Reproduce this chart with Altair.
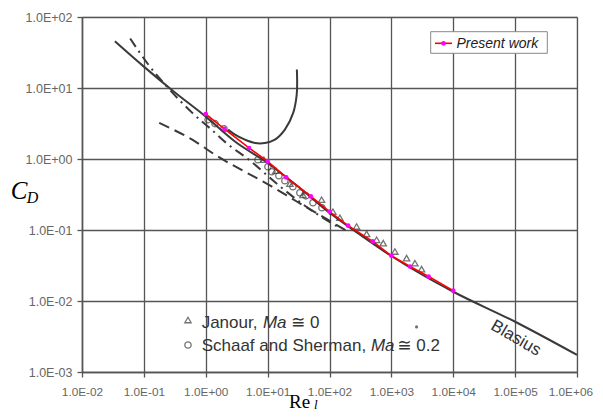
import altair as alt
import pandas as pd

# ---------------- data ----------------
# solid curve (low-Re theory merging into Blasius)
solid_re = [0.034, 0.1, 0.3, 1, 3, 10, 30, 100, 300, 1000, 3000, 10000, 100000, 1000000]
solid_cd = [45.6, 20.0, 9.0, 3.95, 1.75, 0.88, 0.42, 0.175, 0.088, 0.043, 0.024, 0.0135, 0.0051, 0.00174]

# dash-dot curve
dashdot_re = [0.06, 0.12, 0.26, 0.6, 1.24, 2.15, 5.2, 14.7, 40, 150]
dashdot_cd = [49.8, 21.0, 9.5, 4.5, 2.59, 1.68, 0.95, 0.434, 0.22, 0.105]

# long-dash curve
longdash_re = [0.177, 0.67, 1.41, 11.6, 30, 100, 200]
longdash_cd = [3.22, 1.77, 1.15, 0.411, 0.25, 0.135, 0.095]

# U-shaped curve (diverging expansion)
ucurve_re = [2.29, 2.97, 4.30, 6.23, 9.04, 13.1, 19.0, 25.9, 29.5, 30.0, 29.7]
ucurve_cd = [2.59, 2.20, 1.87, 1.68, 1.68, 1.87, 2.59, 4.46, 8.0, 12.5, 18.2]

# present work
present_re = [1, 2, 5, 10, 20, 50, 100, 200, 500, 1000, 2000, 4000, 10000]
present_cd = [4.3, 2.65, 1.43, 0.925, 0.55, 0.297, 0.182, 0.115, 0.069, 0.0433, 0.0306, 0.0221, 0.014]

# Janour (triangles)
janour_re = [8.7, 13.6, 22.9, 37.2, 74.5, 113.5, 147, 274, 398, 577, 738, 1140, 1762, 2400, 3077]
janour_cd = [0.977, 0.684, 0.449, 0.313, 0.267, 0.181, 0.149, 0.112, 0.0883, 0.0728, 0.0653, 0.0498, 0.0402, 0.0341, 0.0281]

# Schaaf and Sherman (circles)
schaaf_re = [1.09, 1.41, 1.97, 6.97, 10.1, 11.7, 15.2, 19.0, 25.6, 33.2, 41.6, 54, 75.4]
schaaf_cd = [3.58, 3.15, 2.67, 0.977, 0.778, 0.662, 0.581, 0.494, 0.407, 0.335, 0.303, 0.242, 0.206]

# axis ticks
x_ticks = [1e-2, 1e-1, 1e0, 1e1, 1e2, 1e3, 1e4, 1e5, 1e6]
x_tick_labels = ["1.0E-02", "1.0E-01", "1.0E+00", "1.0E+01", "1.0E+02",
                 "1.0E+03", "1.0E+04", "1.0E+05", "1.0E+06"]
y_ticks = [1e-3, 1e-2, 1e-1, 1e0, 1e1, 1e2]
y_tick_labels = ["1.0E-03", "1.0E-02", "1.0E-01", "1.0E+00", "1.0E+01", "1.0E+02"]

# in-plot annotation texts (data coordinates)
note_text = ["Janour,", "Ma", "\u2245 0", "Schaaf and Sherman,", "Ma", "\u2245 0.2"]
note_re = [0.859, 8.4, 23.8, 0.859, 467, 1250]
note_cd = [0.0049, 0.0049, 0.0049, 0.00233, 0.00233, 0.00233]
note_italic = [False, True, False, False, True, False]
key_shape = ["triangle-up", "circle"]
key_re = [0.516, 0.516]
key_cd = [0.0054, 0.0024]
dot_re = [2553]
dot_cd = [0.00432]
blasius_label = ["Blasius"]
blasius_re = [1.03e5]
blasius_cd = [0.003]

# ---------------- chart ----------------
W, H = 495, 355
GRAY = "#3a3a3a"
SANS = "Liberation Sans, Arial, DejaVu Sans"
SERIF = "Liberation Serif, Times New Roman, serif"

xs = alt.Scale(type="log", domain=[1e-2, 1e6])
ys = alt.Scale(type="log", domain=[1e-3, 1e2])

def arr(lst):
    return "[" + ",".join("'" + s + "'" for s in lst) + "]"

# the last x label is drawn separately (right-aligned so it stays inside the page)
axis_x_labels = x_tick_labels[:-1] + [""]

xaxis = alt.Axis(values=x_ticks, title=None, grid=True,
                 labelExpr=arr(axis_x_labels) + "[round(log(datum.value)/LN10)+2]",
                 labelFont=SANS, labelFontSize=11.8, labelColor="#666",
                 labelPadding=9, tickSize=5, labelFlush=False, labelOverlap=False)
yaxis = alt.Axis(values=y_ticks, title=None, grid=True,
                 labelExpr=arr(y_tick_labels) + "[round(log(datum.value)/LN10)+3]",
                 labelFont=SANS, labelFontSize=12.5, labelColor="#666",
                 labelPadding=5, tickSize=5, labelFlush=False, labelOverlap=False)

X = alt.X("re:Q", scale=xs, axis=xaxis)
Y = alt.Y("cd:Q", scale=ys, axis=yaxis)

def df(re, cd):
    return pd.DataFrame({"re": re, "cd": cd, "i": list(range(len(re)))})

solid = alt.Chart(df(solid_re, solid_cd)).mark_line(
    color=GRAY, strokeWidth=2, interpolate="monotone").encode(X, Y, order="i:Q")
dashdot = alt.Chart(df(dashdot_re, dashdot_cd)).mark_line(
    color=GRAY, strokeWidth=2, strokeDash=[10, 5, 2, 5], interpolate="monotone").encode(X, Y, order="i:Q")
longdash = alt.Chart(df(longdash_re, longdash_cd)).mark_line(
    color=GRAY, strokeWidth=2, strokeDash=[11, 6], interpolate="monotone").encode(X, Y, order="i:Q")
ucurve = alt.Chart(df(ucurve_re, ucurve_cd)).mark_line(
    color=GRAY, strokeWidth=2, interpolate="catmull-rom").encode(X, Y, order="i:Q")

janour = alt.Chart(df(janour_re, janour_cd)).mark_point(
    shape="triangle-up", size=40, color=GRAY, strokeWidth=1.3, filled=False).encode(X, Y)
schaaf = alt.Chart(df(schaaf_re, schaaf_cd)).mark_point(
    shape="circle", size=40, color=GRAY, strokeWidth=1.3, filled=False).encode(X, Y)

present_line = alt.Chart(df(present_re, present_cd)).mark_line(
    color="#ff0000", strokeWidth=1.6).encode(X, Y, order="i:Q")
present_pts = alt.Chart(df(present_re, present_cd)).mark_point(
    shape="circle", size=22, color="#ff00ff", filled=True, opacity=1).encode(X, Y)

notes = pd.DataFrame({"re": note_re, "cd": note_cd, "t": note_text, "it": note_italic})
notes_n = alt.Chart(notes[~notes.it]).mark_text(
    align="left", baseline="middle", font=SANS, fontSize=17, color="#333").encode(X, Y, text="t:N")
notes_i = alt.Chart(notes[notes.it]).mark_text(
    align="left", baseline="middle", font=SANS, fontSize=17, fontStyle="italic", color="#333").encode(X, Y, text="t:N")
keys = pd.DataFrame({"re": key_re, "cd": key_cd, "s": key_shape})
key_pts = alt.Chart(keys).mark_point(size=40, color=GRAY, strokeWidth=1.3, filled=False).encode(
    X, Y, shape=alt.Shape("s:N", scale=alt.Scale(domain=key_shape, range=key_shape), legend=None))
dot = alt.Chart(df(dot_re, dot_cd)).mark_point(size=10, color="#333", filled=True).encode(X, Y)
blas = alt.Chart(pd.DataFrame({"re": blasius_re, "cd": blasius_cd, "t": blasius_label})).mark_text(
    font=SANS, fontSize=17, angle=30, color="#333", baseline="middle", align="center").encode(X, Y, text="t:N")

# last x tick label
last_lab = alt.Chart(pd.DataFrame({"t": [x_tick_labels[-1]]})).mark_text(
    font=SANS, fontSize=11.8, color="#666", align="right", baseline="middle").encode(
    x=alt.value(511), y=alt.value(374.5), text="t:N")

# legend box for "Present work"
leg_box = alt.Chart(pd.DataFrame({"a": [0]})).mark_rect(
    fill="white", stroke="#888", strokeWidth=1).encode(
    x=alt.value(348.7), x2=alt.value(465.3), y=alt.value(14.7), y2=alt.value(36.3))
leg_line = alt.Chart(pd.DataFrame({"a": [0]})).mark_rule(color="#ff0000", strokeWidth=1.6).encode(
    x=alt.value(353), x2=alt.value(370), y=alt.value(26.3))
leg_pt = alt.Chart(pd.DataFrame({"a": [0]})).mark_point(
    shape="circle", size=22, color="#ff00ff", filled=True, opacity=1).encode(
    x=alt.value(361.5), y=alt.value(26.3))
leg_txt = alt.Chart(pd.DataFrame({"t": ["Present work"]})).mark_text(
    align="left", baseline="middle", font=SANS, fontSize=14, fontStyle="italic", color="#222").encode(
    x=alt.value(374.5), y=alt.value(26.5), text="t:N")

# axis titles
cd_c = alt.Chart(pd.DataFrame({"t": ["C"]})).mark_text(
    font=SERIF, fontSize=25, fontStyle="italic", align="center", baseline="middle", color="#000").encode(
    x=alt.value(-63), y=alt.value(174), text="t:N")
cd_d = alt.Chart(pd.DataFrame({"t": ["D"]})).mark_text(
    font=SERIF, fontSize=16, fontStyle="italic", align="center", baseline="middle", color="#000").encode(
    x=alt.value(-49.5), y=alt.value(181), text="t:N")
re_r = alt.Chart(pd.DataFrame({"t": ["Re"]})).mark_text(
    font=SERIF, fontSize=19, align="left", baseline="middle", color="#000").encode(
    x=alt.value(207), y=alt.value(385), text="t:N")
re_l = alt.Chart(pd.DataFrame({"t": ["l"]})).mark_text(
    font=SERIF, fontSize=13, fontStyle="italic", align="left", baseline="middle", color="#000").encode(
    x=alt.value(232), y=alt.value(388), text="t:N")

chart = alt.layer(
    solid, dashdot, longdash, ucurve, janour, schaaf, present_line, present_pts,
    notes_n, notes_i, key_pts, dot, blas, last_lab,
    leg_box, leg_line, leg_pt, leg_txt, cd_c, cd_d, re_r, re_l
).properties(
    width=W, height=H,
    autosize=alt.AutoSizeParams(type="none"),
    padding={"left": 74, "top": 9, "right": 18, "bottom": 39},
    background="white",
).configure_view(
    stroke="#c4c4c4", strokeWidth=1.2
).configure_axis(
    gridColor="#555", gridWidth=1.3, gridOpacity=1,
    domainColor="#555", domainWidth=1.5, tickColor="#555", tickWidth=1.3
)

chart.save("out.html", embed_options={"renderer": "svg", "actions": False})
